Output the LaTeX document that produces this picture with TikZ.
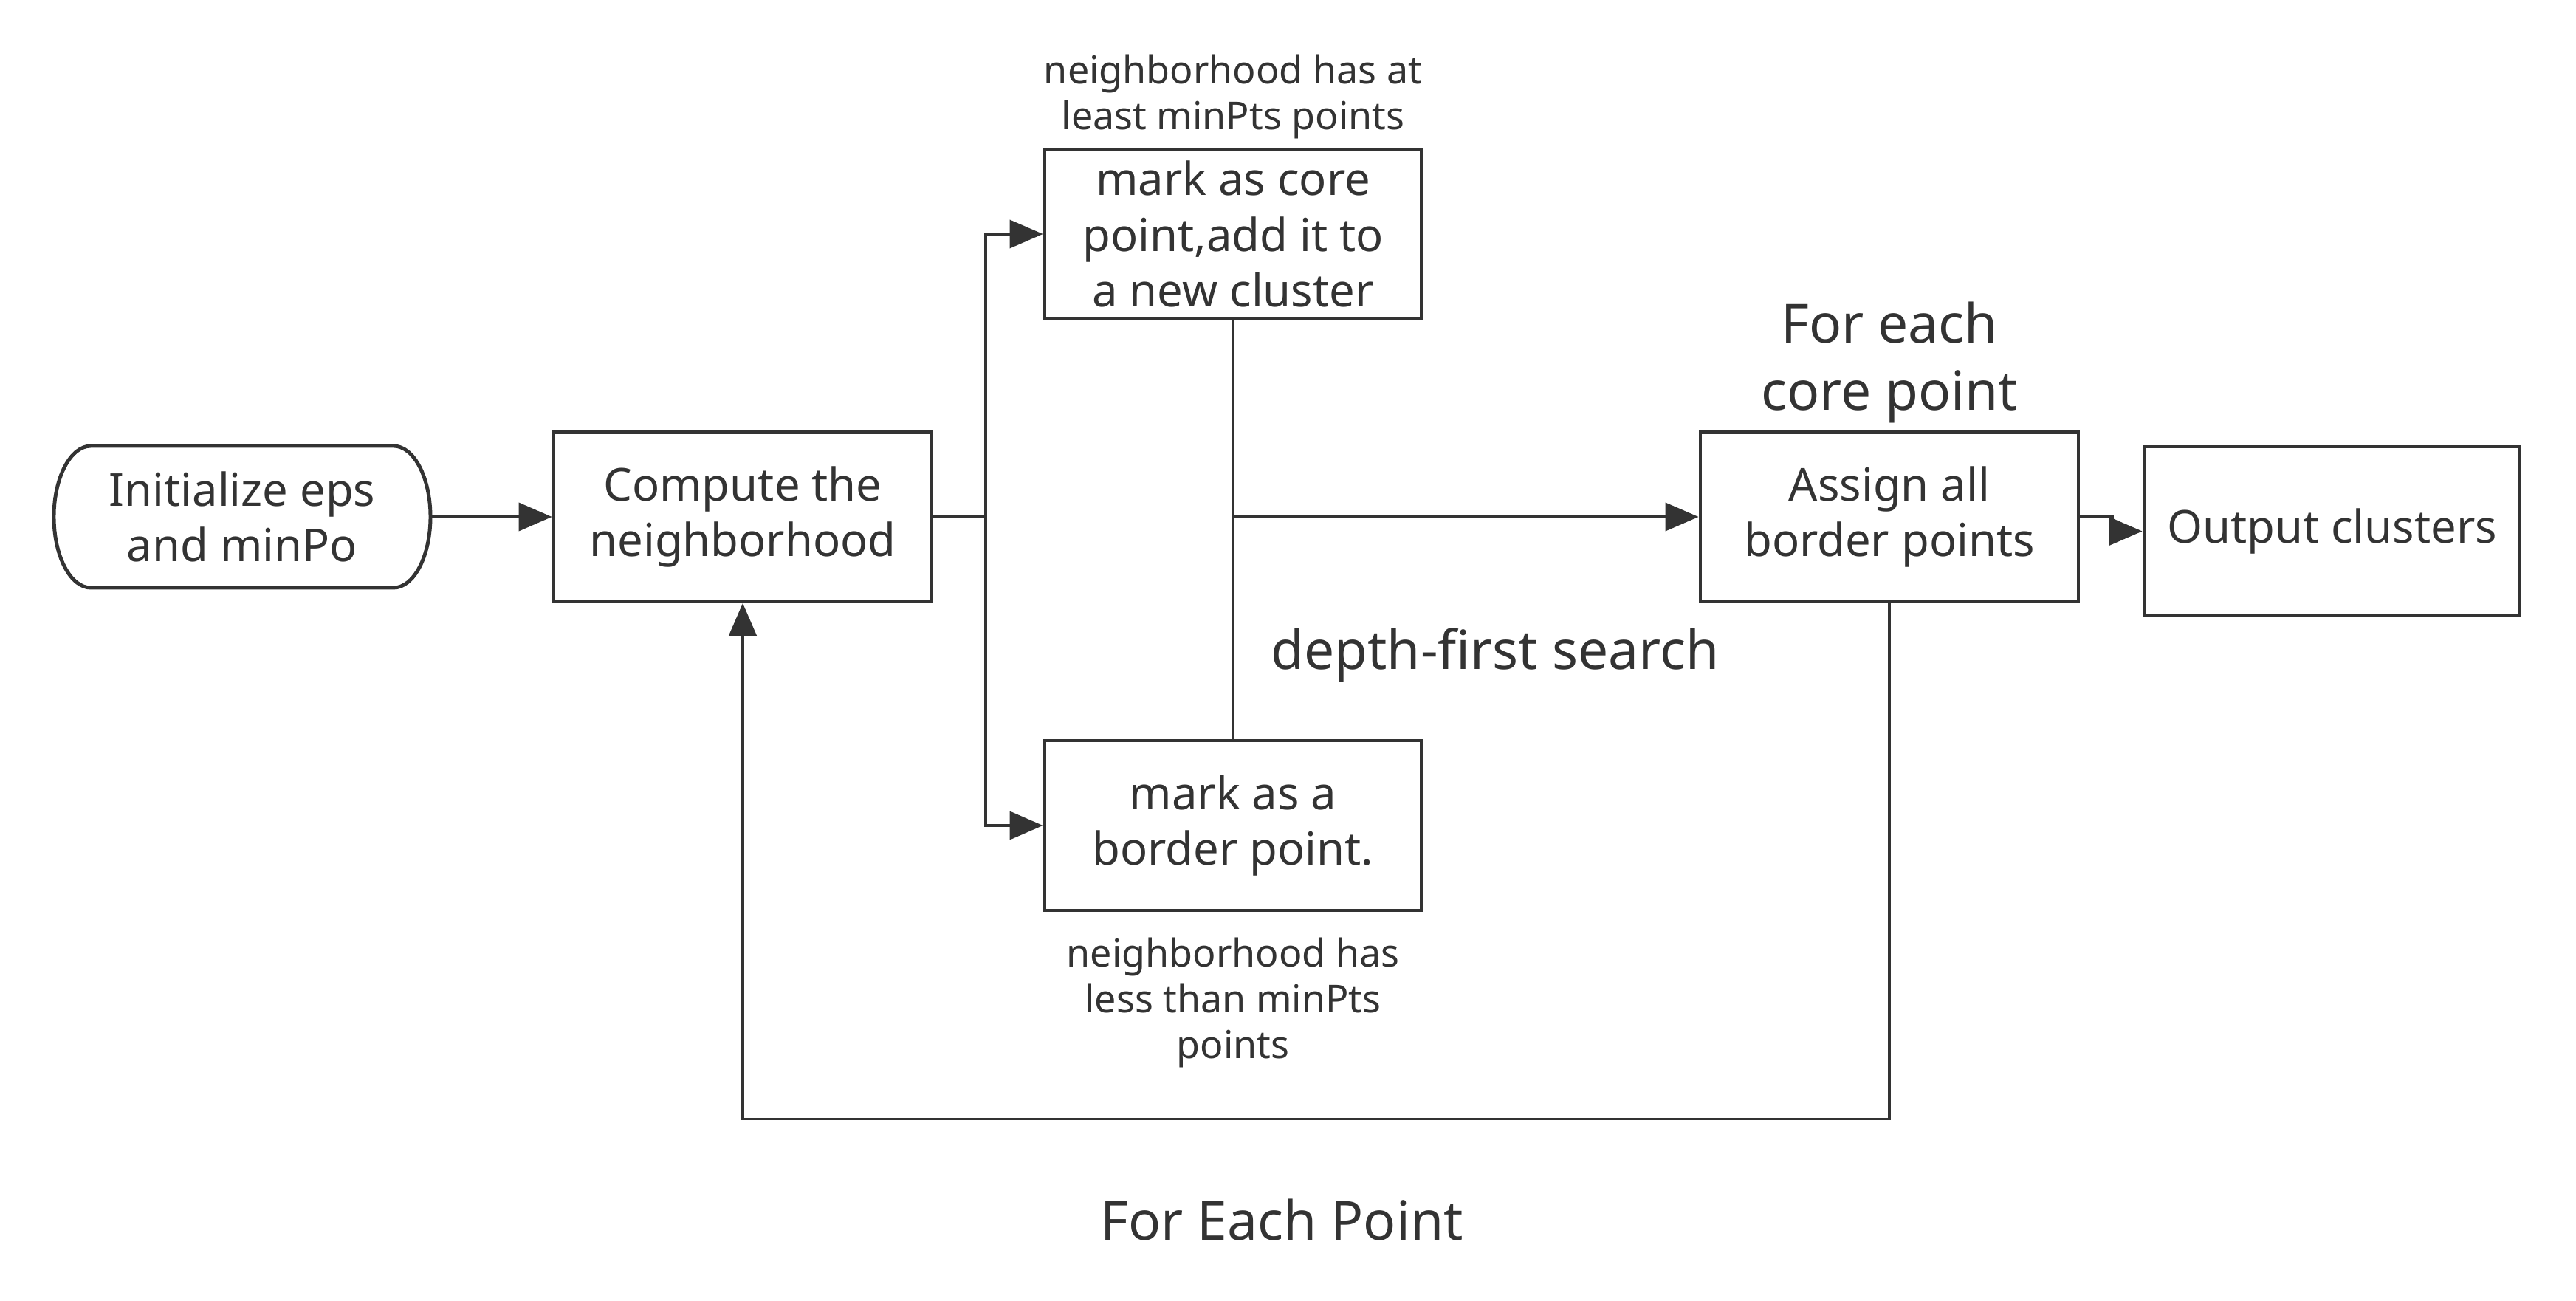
\documentclass[tikz,border=0pt]{standalone}
\usepackage{fontspec}
\setmainfont{Noto Sans}
\usetikzlibrary{arrows.meta}
\definecolor{ink}{HTML}{333333}
\begin{document}
\begin{tikzpicture}[
  box/.style={draw=ink, line width=1.4pt, minimum width=5.1cm, minimum height=2.3cm, align=center, text=ink, font=\fontsize{17.5}{21.5}\selectfont, inner sep=0pt},
  conn/.style={draw=ink, line width=1.1pt},
  arr/.style={conn, -{Triangle[length=0.45cm,width=0.38cm]}},
  small/.style={text=ink, align=center, font=\fontsize{14.8}{17.7}\selectfont, inner sep=0pt},
  big/.style={text=ink, align=center, font=\fontsize{20.8}{26}\selectfont, inner sep=0pt},
]
\useasboundingbox (0,0) rectangle (34.89,-17.62);
\fill[white] (0,0) rectangle (34.89,-17.62);

% nodes
\node[box, draw=none, outer sep=0pt, minimum height=1.92cm] (start) at (3.28,-7.0) {Initialize eps\\and minPo};
\draw[ink, line width=1.4pt, line join=round]
  (1.23,-6.04) -- (5.33,-6.04)
  arc[start angle=90, end angle=-90, x radius=0.5cm, y radius=0.96cm]
  -- (1.23,-7.96)
  arc[start angle=270, end angle=90, x radius=0.5cm, y radius=0.96cm] -- cycle;
\node[box, minimum width=5.12cm, minimum height=2.29cm] (compute) at (10.06,-7.0) {Compute the\\neighborhood};
\node[box] (core) at (16.70,-3.17) {mark as core\\point,add it to\\a new cluster};
\node[box] (border) at (16.70,-11.18) {mark as a\\border point.};
\node[box, minimum width=5.12cm, minimum height=2.29cm] (assign) at (25.59,-7.0) {Assign all\\border points};
\node[box, minimum width=5.09cm, minimum height=2.29cm] (output) at (31.585,-7.195) {Output clusters};

% labels
\node[small] (lcore) at (16.70,-1.31) {neighborhood has at\\least minPts points};
\node[small] (lborder) at (16.70,-13.58) {neighborhood has\\less than minPts\\points};
\node[big] (leach) at (25.59,-4.91) {For each\\core point};
\node[big] (ldfs) at (20.25,-8.87) {depth-first search};
\node[big] (lpoint) at (17.36,-16.52) {For Each Point};

% connectors
\draw[arr] (start.east) -- (compute.west);
\coordinate (br) at (13.35,-7.0);
\draw[conn] (compute.east) -- (br);
\draw[arr] (br) |- (core.west);
\draw[arr] (br) |- (border.west);
\draw[conn] (core.south) -- (border.north);
\coordinate (j) at (core.south |- br);
\draw[arr] (j) -- (assign.west);
\draw[arr] (assign.east) -- ++(0.44,0) |- (output.west);
\draw[arr] (assign.south) -- ++(0,-6.985) -| (compute.south);
\end{tikzpicture}
\end{document}
